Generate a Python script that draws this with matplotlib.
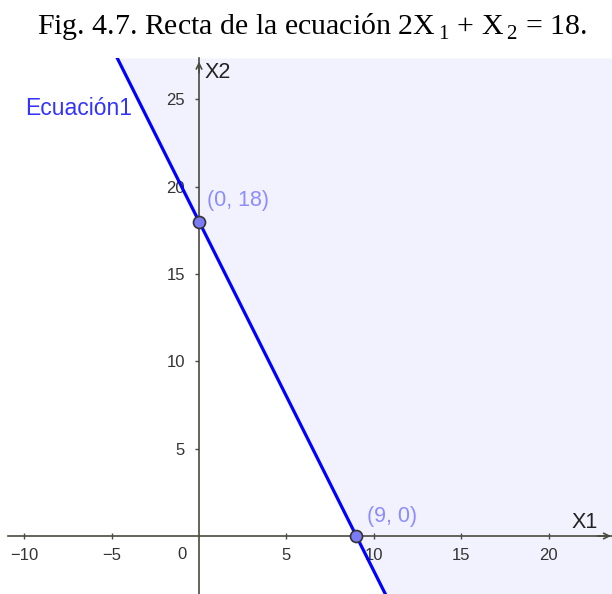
import numpy as np
import matplotlib.pyplot as plt

# ecuacion 2*X1 + X2 = 18
coef_x1 = 2
coef_x2 = 1
rhs = 18

# puntos de corte con los ejes
point_x = [0, 9]
point_y = [18, 0]
point_labels = ["(0, 18)", "(9, 0)"]

xticks = [-10, -5, 5, 10, 15, 20]
yticks = [5, 10, 15, 20, 25]

xlim = (-10.93, 23.63)
ylim = (-3.32, 27.36)

plt.rcParams['mathtext.fontset'] = 'custom'
plt.rcParams['mathtext.rm'] = 'Liberation Serif'

fig = plt.figure(figsize=(6.12, 5.94), dpi=100)
ax = fig.add_axes([8 / 612, 0, 604 / 612, 536 / 594])
ax.set_xlim(*xlim)
ax.set_ylim(*ylim)

# region sombreada 2x1 + x2 >= 18
ys = np.linspace(ylim[0], ylim[1], 50)
ax.fill_betweenx(ys, (rhs - coef_x2 * ys) / coef_x1, xlim[1], color="#f2f2ff", lw=0, zorder=0)

# recta
xs = np.linspace(xlim[0], xlim[1], 50)
ax.plot(xs, (rhs - coef_x1 * xs) / coef_x2, color="#0000ff", lw=2.3, zorder=4)

# puntos
ax.scatter(point_x, point_y, s=75, color="#7b7bf5", edgecolors="#333333", linewidths=1.2, zorder=5)
ax.text(point_x[0] + 0.45, point_y[0] + 1.2, point_labels[0], color="#8c8cff",
        fontsize=15.5, family="Liberation Sans", va="center", zorder=6)
ax.text(point_x[1] + 0.6, point_y[1] + 1.1, point_labels[1], color="#8c8cff",
        fontsize=15.5, family="Liberation Sans", va="center", zorder=6)
ax.text(-9.95, 24.1, "Ecuación1", color="#3333ff", fontsize=16.5, family="Liberation Sans")

# ejes en el origen
for side in ["top", "right"]:
    ax.spines[side].set_visible(False)
ax.spines["left"].set_position(("data", 0))
ax.spines["bottom"].set_position(("data", 0))
for side in ["left", "bottom"]:
    ax.spines[side].set_color("#4a4a40")
    ax.spines[side].set_linewidth(1.2)
    ax.spines[side].set_zorder(2)

ax.set_xticks(xticks)
ax.set_yticks(yticks)
ax.tick_params(axis="both", length=3, width=1, color="#4a4a40",
               labelsize=12, labelcolor="#333333")
ax.tick_params(axis="x", direction="inout", length=5, pad=6)
ax.tick_params(axis="y", direction="out", pad=7)
for lab in ax.get_xticklabels() + ax.get_yticklabels():
    lab.set_family("Liberation Sans")
ax.text(-1.0, -0.65, "0", ha="center", va="top", fontsize=12, color="#333333", family="Liberation Sans")

# flechas
ax.annotate("", xy=(0, ylim[1] - 0.05), xytext=(0, ylim[1] - 1.0),
            arrowprops=dict(arrowstyle="->", color="#4a4a40", lw=1.2), annotation_clip=False)
ax.annotate("", xy=(xlim[1] + 0.1, 0), xytext=(xlim[1] - 1.0, 0),
            arrowprops=dict(arrowstyle="->", color="#4a4a40", lw=1.2), annotation_clip=False)
ax.text(0.3, ylim[1] - 0.25, "X2", fontsize=15.5, color="#222222", family="Liberation Sans", va="top")
ax.text(21.3, 0.45, "X1", fontsize=15.5, color="#222222", family="Liberation Sans")

fig.text(0.51, 1 - 27 / 594, r"Fig. 4.7. Recta de la ecuación 2X$_{\,1}$ + X$_{\,2}$ = 18.",
         ha="center", va="center", fontsize=21.5, family="Liberation Serif")

fig.savefig("out.png", dpi=100)
